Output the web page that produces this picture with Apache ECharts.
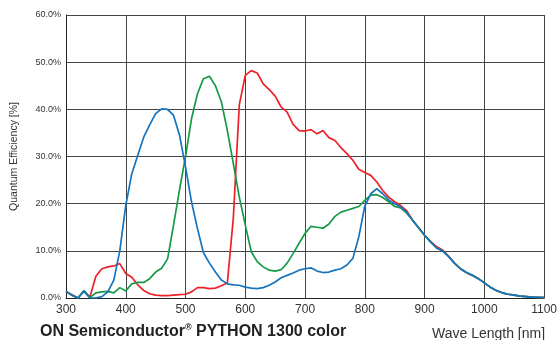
<!DOCTYPE html>
<html>
<head>
<meta charset="utf-8">
<script src="https://cdn.jsdelivr.net/npm/echarts@6/dist/echarts.min.js"></script>
<style>html,body{margin:0;padding:0;background:#fff}#c{width:560px;height:340px}</style>
</head>
<body>
<div id="c"></div>
<script>
var wavelengths = [300,310,320,330,340,350,360,370,380,390,400,410,420,430,440,450,460,470,480,490,500,510,520,530,540,550,560,570,580,590,600,610,620,630,640,650,660,670,680,690,700,710,720,730,740,750,760,770,780,790,800,810,820,830,840,850,860,870,880,890,900,910,920,930,940,950,960,970,980,990,1000,1010,1020,1030,1040,1050,1060,1070,1080,1090,1100];
var redQE = [1.4,0.7,0,1.5,0.2,4.6,6.2,6.6,6.8,7.3,5.2,4.4,2.8,1.6,0.9,0.6,0.5,0.5,0.6,0.7,0.8,1.3,2.2,2.2,2.0,2.1,2.6,3.2,17,41,47.2,48.2,47.7,45.4,44.2,42.8,40.5,39.4,36.8,35.5,35.4,35.7,34.8,35.5,34,33.4,31.9,30.6,29.2,27.3,26.6,26,24.6,22.8,21.4,20.4,19.6,18.5,16.5,14.9,13.3,12,10.9,10.2,8.9,7.4,6.2,5.4,4.8,4.1,3.2,2.3,1.6,1.1,0.8,0.6,0.4,0.3,0.2,0.15,0.1];
var greenQE = [1.4,0.6,0,1.6,0.1,1.1,1.3,1.4,1.1,2.2,1.5,3.0,3.3,3.3,4.1,5.5,6.3,8.3,15.5,23,30,38,43.3,46.5,47,45,41.6,35.5,28.5,21.4,15.5,9.8,7.7,6.6,5.9,5.7,6.0,7.4,9.4,11.6,13.7,15.2,15.0,14.8,15.7,17.3,18.2,18.6,19.0,19.4,20.7,21.8,21.9,21.3,20.4,19.4,19.1,18.0,16.5,14.9,13.3,11.9,10.6,10.0,8.8,7.4,6.2,5.4,4.8,4.1,3.2,2.3,1.6,1.1,0.8,0.6,0.4,0.3,0.2,0.15,0.1];
var blueQE = [1.4,0.6,0,1.4,0,0,0.3,1.3,3.8,10.0,19.6,26.3,30.2,34.1,36.7,39.1,40.1,40.0,38.7,34.5,27.8,20.4,14.7,9.6,7.4,5.5,3.8,3.0,2.8,2.7,2.3,2.1,2.0,2.2,2.7,3.4,4.3,4.8,5.3,5.9,6.2,6.4,5.7,5.4,5.5,5.9,6.2,7.0,8.4,13,19.5,22.1,23.2,22.1,20.8,20.0,19.3,18.2,16.5,14.9,13.3,11.9,10.6,10.0,8.8,7.4,6.2,5.4,4.8,4.1,3.2,2.3,1.6,1.1,0.8,0.6,0.4,0.3,0.2,0.15,0.1];
var titleText = 'ON Semiconductor';
var titleRest = ' PYTHON 1300 color';
var xName = 'Wave Length [nm]';
var yName = 'Quantum Efficiency [%]';

function pairs(v){ return wavelengths.map(function(w,i){ return [w, v[i]]; }); }
var font = 'Liberation Sans, Arial, sans-serif';
var chart = echarts.init(document.getElementById('c'));
chart.setOption({
  animation: false,
  backgroundColor: '#fff',
  title: [
    { text: '{b|' + titleText + '}{s|®}{b|' + titleRest + '}', left: 40, top: 323, padding: 0,
      textStyle: { rich: {
        b: { fontFamily: font, fontSize: 16, fontWeight: 'bold', color: '#222' },
        s: { fontFamily: font, fontSize: 9, fontWeight: 'bold', color: '#222', verticalAlign: 'top', padding: [0,0,8,0] }
      } } },
    { text: xName, left: 432, top: 327, padding: 0, textStyle: { fontFamily: font, fontSize: 14, fontWeight: 'normal', color: '#333' } }
  ],
  grid: { left: 66, right: 12, top: 15, bottom: 42 },
  xAxis: {
    type: 'value', min: 300, max: 1100, interval: 100,
    axisLine: { show: true, lineStyle: { color: '#222', width: 1 } },
    axisTick: { show: false },
    axisLabel: { fontFamily: font, fontSize: 12, color: '#333', margin: 6, formatter: function(v){ return String(v); } },
    splitLine: { show: true, lineStyle: { color: '#444', width: 1 } }
  },
  yAxis: {
    type: 'value', min: 0, max: 60, interval: 10,
    name: yName, nameLocation: 'middle', nameGap: 46,
    nameTextStyle: { fontFamily: font, fontSize: 10.5, color: '#333' },
    axisLine: { show: true, lineStyle: { color: '#222', width: 1 } },
    axisTick: { show: false },
    axisLabel: { fontFamily: font, fontSize: 9, color: '#333', margin: 5, formatter: function(v){ return v.toFixed(1) + '%'; } },
    splitLine: { show: true, lineStyle: { color: '#444', width: 1 } }
  },
  series: [
    { type: 'line', data: pairs(redQE), symbol: 'none', lineStyle: { color: '#ec2228', width: 1.7 } },
    { type: 'line', data: pairs(greenQE), symbol: 'none', lineStyle: { color: '#179a48', width: 1.7 } },
    { type: 'line', data: pairs(blueQE), symbol: 'none', lineStyle: { color: '#1474bf', width: 1.7 } }
  ]
});
</script>
</body>
</html>
